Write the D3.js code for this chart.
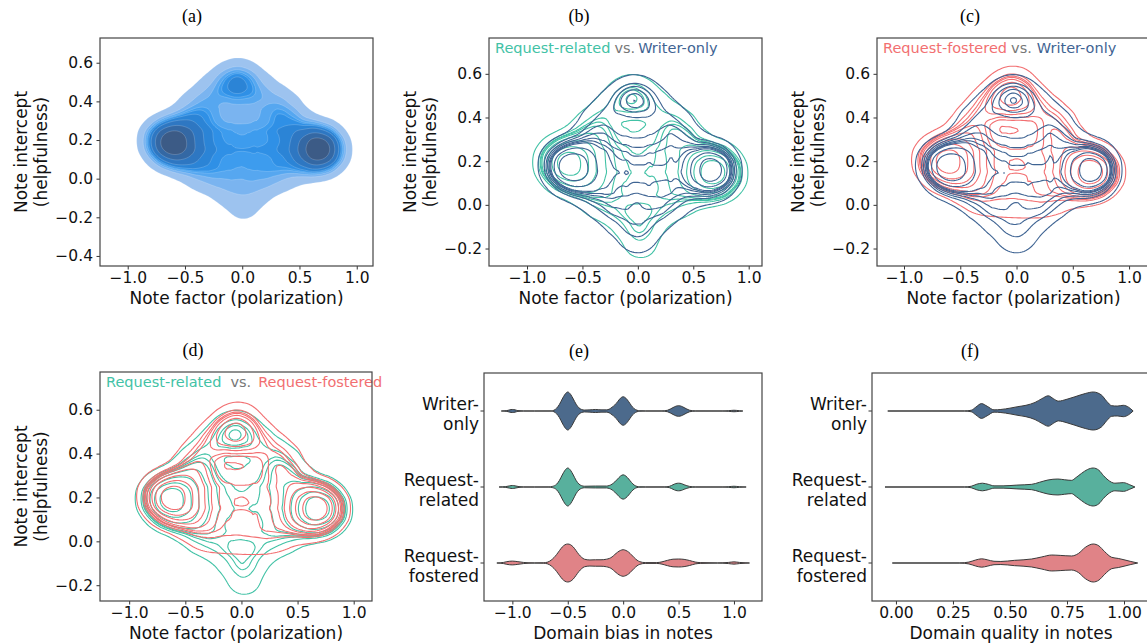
<!DOCTYPE html>
<html>
<head>
<meta charset="utf-8">
<script src="https://cdn.jsdelivr.net/npm/d3@7"></script>
<style>
  body { margin: 0; background: #fff; }
  text { font-family: "DejaVu Sans", sans-serif; }
</style>
</head>
<body>
<div id="chart"></div>
<script>
// groups of notes
const groups = ["Writer-only", "Request-related", "Request-fostered"];
const groupLabels = [["Writer-", "only"], ["Request-", "related"], ["Request-", "fostered"]];
const groupFill = ["#4c6a8c", "#58b09d", "#e08387"];
const groupLine = ["#3f6493", "#42c2a6", "#f26f71"];

// tick labels
const factorTicks = [-1.0, -0.5, 0.0, 0.5, 1.0];
const interceptTicksAll = [-0.4, -0.2, 0.0, 0.2, 0.4, 0.6];
const interceptTicks = [-0.2, 0.0, 0.2, 0.4, 0.6];
const biasTicks = [-1.0, -0.5, 0.0, 0.5, 1.0];
const qualityTicks = [0.0, 0.25, 0.5, 0.75, 1.0];

// note clusters: [factor, intercept, weight]
const writerNotes = [
  [-0.62, 0.17, 2.2], [-0.6, 0.23, 0.9], [-0.6, 0.11, 0.9], [-0.54, 0.17, 1.0], [-0.7, 0.18, 0.9],
  [-0.76, 0.19, 0.4], [-0.5, 0.08, 0.6], [-0.5, 0.26, 0.6],
  [0.7, 0.16, 2.3], [0.67, 0.22, 0.9], [0.67, 0.1, 0.9], [0.61, 0.16, 1.0], [0.75, 0.16, 0.6],
  [0.56, 0.08, 0.6], [0.56, 0.25, 0.6],
  [-0.1, 0.49, 0.8], [0.04, 0.49, 0.8], [-0.03, 0.52, 0.5], [-0.22, 0.46, 0.5], [0.16, 0.46, 0.5],
  [-0.42, 0.38, 0.5], [0.38, 0.37, 0.5], [-0.3, 0.42, 0.5], [0.27, 0.42, 0.5], [0.0, 0.41, 0.5],
  [-0.38, 0.3, 0.8], [-0.2, 0.3, 0.8], [0.0, 0.3, 0.8], [0.2, 0.3, 0.8], [0.38, 0.3, 0.8],
  [-0.38, 0.2, 1.0], [-0.2, 0.2, 1.0], [0.0, 0.19, 1.0], [0.2, 0.2, 1.0], [0.4, 0.2, 1.0],
  [-0.38, 0.1, 1.0], [-0.2, 0.1, 1.0], [0.0, 0.1, 1.0], [0.2, 0.1, 1.0], [0.4, 0.1, 1.0],
  [-0.33, 0.0, 0.85], [-0.12, 0.0, 0.85], [0.12, 0.0, 0.85], [0.32, 0.0, 0.85],
  [-0.16, -0.07, 0.6], [0.14, -0.06, 0.5], [-0.07, -0.13, 0.4], [0.08, -0.13, 0.4], [0.0, -0.17, 0.45]
];
const relatedNotes = [
  [-0.65, 0.19, 2.2], [-0.63, 0.25, 0.9], [-0.63, 0.12, 0.9], [-0.56, 0.18, 1.0], [-0.73, 0.19, 0.9],
  [-0.8, 0.2, 0.5], [-0.52, 0.1, 0.6], [-0.52, 0.27, 0.6],
  [0.7, 0.15, 2.2], [0.68, 0.21, 0.9], [0.68, 0.09, 0.9], [0.62, 0.15, 1.0], [0.77, 0.15, 0.9],
  [0.84, 0.14, 0.5], [0.57, 0.08, 0.6], [0.57, 0.24, 0.6],
  [-0.12, 0.5, 0.6], [0.02, 0.5, 0.6], [-0.05, 0.53, 0.3], [-0.22, 0.46, 0.4], [0.15, 0.46, 0.4],
  [-0.44, 0.37, 0.5], [0.4, 0.36, 0.5], [-0.3, 0.41, 0.5], [0.27, 0.41, 0.5], [0.0, 0.4, 0.4],
  [-0.4, 0.3, 0.8], [-0.2, 0.3, 0.6], [0.0, 0.3, 0.55], [0.2, 0.3, 0.6], [0.4, 0.3, 0.8],
  [-0.4, 0.2, 0.9], [-0.2, 0.2, 0.65], [0.0, 0.19, 0.55], [0.2, 0.2, 0.65], [0.42, 0.2, 0.9],
  [-0.4, 0.1, 0.9], [-0.2, 0.1, 0.65], [0.0, 0.1, 0.55], [0.2, 0.1, 0.65], [0.42, 0.1, 0.9],
  [-0.35, 0.0, 0.75], [-0.12, -0.01, 0.7], [0.12, -0.01, 0.7], [0.35, 0.0, 0.75],
  [-0.1, -0.08, 0.5], [0.1, -0.08, 0.5], [0.02, -0.16, 0.5], [0.03, -0.2, 0.35]
];
const fosteredNotes = [
  [-0.64, 0.2, 2.2], [-0.62, 0.26, 0.9], [-0.62, 0.13, 0.9], [-0.55, 0.19, 1.0], [-0.72, 0.2, 0.9],
  [-0.8, 0.21, 0.5], [-0.5, 0.11, 0.6], [-0.5, 0.28, 0.6],
  [0.68, 0.15, 2.2], [0.66, 0.21, 0.9], [0.66, 0.09, 0.9], [0.6, 0.15, 1.0], [0.76, 0.15, 0.9],
  [0.83, 0.15, 0.5], [0.55, 0.08, 0.6], [0.55, 0.24, 0.6],
  [-0.12, 0.5, 1.1], [0.02, 0.5, 1.1], [-0.05, 0.54, 0.6], [-0.24, 0.47, 0.6], [0.17, 0.47, 0.6], [0.0, 0.58, 0.3],
  [-0.44, 0.38, 0.7], [0.4, 0.37, 0.7], [-0.3, 0.43, 0.7], [0.27, 0.42, 0.7], [0.0, 0.42, 0.6],
  [-0.4, 0.3, 0.8], [-0.2, 0.3, 0.65], [0.0, 0.3, 0.65], [0.2, 0.3, 0.65], [0.4, 0.3, 0.8],
  [-0.4, 0.2, 0.9], [-0.2, 0.2, 0.65], [0.0, 0.2, 0.6], [0.2, 0.2, 0.65], [0.42, 0.2, 0.9],
  [-0.4, 0.1, 0.85], [-0.2, 0.1, 0.65], [0.0, 0.1, 0.6], [0.2, 0.1, 0.65], [0.42, 0.1, 0.85],
  [-0.33, 0.01, 0.6], [-0.1, 0.0, 0.6], [0.12, 0.0, 0.6], [0.32, 0.01, 0.6]
];

// violin outlines: [value, relative density]
const writerBias = [[-1.10,0],[-1.05,0.02],[-1.025,0.06],[-1.0,0.08],[-0.975,0.06],[-0.95,0.02],[-0.9,0.003],[-0.8,0],[-0.65,0.003],[-0.625,0.04],[-0.6,0.15],[-0.575,0.35],[-0.55,0.63],[-0.525,0.88],[-0.5,1.0],[-0.475,0.88],[-0.45,0.63],[-0.425,0.36],[-0.4,0.17],[-0.375,0.08],[-0.35,0.05],[-0.3,0.06],[-0.25,0.08],[-0.2,0.06],[-0.15,0.06],[-0.125,0.1],[-0.1,0.2],[-0.075,0.32],[-0.05,0.49],[-0.025,0.67],[0,0.75],[0.025,0.67],[0.05,0.49],[0.075,0.28],[0.1,0.12],[0.125,0.04],[0.15,0.01],[0.2,0.003],[0.35,0.003],[0.4,0.04],[0.45,0.18],[0.475,0.25],[0.5,0.28],[0.525,0.25],[0.55,0.18],[0.6,0.04],[0.65,0.005],[0.9,0],[0.95,0.015],[1.0,0.04],[1.05,0.015],[1.08,0]];
const relatedBias = [[-1.12,0],[-1.06,0.02],[-1.025,0.06],[-1.0,0.08],[-0.975,0.06],[-0.94,0.02],[-0.9,0.003],[-0.8,0],[-0.67,0.003],[-0.64,0.03],[-0.6,0.15],[-0.575,0.35],[-0.55,0.63],[-0.525,0.88],[-0.5,1.0],[-0.475,0.88],[-0.45,0.63],[-0.425,0.35],[-0.4,0.16],[-0.375,0.07],[-0.35,0.04],[-0.25,0.05],[-0.15,0.05],[-0.125,0.08],[-0.1,0.15],[-0.075,0.27],[-0.05,0.42],[-0.025,0.57],[0,0.64],[0.025,0.57],[0.05,0.42],[0.075,0.24],[0.1,0.1],[0.125,0.03],[0.15,0.008],[0.2,0.002],[0.37,0.003],[0.42,0.04],[0.45,0.12],[0.475,0.18],[0.5,0.2],[0.525,0.18],[0.55,0.12],[0.6,0.03],[0.65,0.004],[0.9,0],[0.95,0.015],[1.0,0.04],[1.05,0.015],[1.11,0]];
const fosteredBias = [[-1.14,0],[-1.08,0.03],[-1.05,0.07],[-1.0,0.1],[-0.95,0.07],[-0.9,0.03],[-0.85,0.008],[-0.8,0.003],[-0.72,0.01],[-0.68,0.05],[-0.65,0.15],[-0.6,0.45],[-0.575,0.65],[-0.55,0.84],[-0.525,0.96],[-0.5,1.0],[-0.475,0.96],[-0.45,0.84],[-0.425,0.65],[-0.4,0.45],[-0.375,0.3],[-0.35,0.2],[-0.3,0.16],[-0.25,0.17],[-0.2,0.17],[-0.15,0.2],[-0.1,0.32],[-0.075,0.45],[-0.05,0.57],[-0.025,0.66],[0,0.7],[0.025,0.66],[0.05,0.57],[0.075,0.43],[0.1,0.28],[0.125,0.15],[0.15,0.07],[0.2,0.02],[0.3,0.02],[0.35,0.06],[0.4,0.14],[0.45,0.2],[0.5,0.21],[0.55,0.19],[0.6,0.13],[0.65,0.05],[0.7,0.02],[0.85,0.005],[0.95,0.03],[1.0,0.06],[1.05,0.03],[1.1,0.01],[1.14,0]];

const writerQuality = [[-0.036,0],[0.3,0.003],[0.33,0.04],[0.35,0.2],[0.375,0.39],[0.4,0.25],[0.43,0.06],[0.46,0.08],[0.5,0.15],[0.535,0.23],[0.57,0.3],[0.61,0.45],[0.64,0.65],[0.668,0.8],[0.69,0.65],[0.712,0.52],[0.75,0.62],[0.785,0.75],[0.83,0.92],[0.865,1.0],[0.9,0.85],[0.925,0.5],[0.946,0.28],[0.97,0.26],[0.997,0.3],[1.02,0.2],[1.04,0]];
const relatedQuality = [[-0.048,0],[0.3,0.003],[0.33,0.04],[0.355,0.15],[0.379,0.2],[0.405,0.14],[0.43,0.06],[0.47,0.06],[0.53,0.1],[0.595,0.14],[0.63,0.25],[0.667,0.37],[0.71,0.42],[0.74,0.38],[0.77,0.35],[0.79,0.5],[0.814,0.72],[0.84,0.92],[0.865,1.0],[0.89,0.88],[0.91,0.6],[0.93,0.37],[0.96,0.2],[0.997,0.23],[1.025,0.12],[1.048,0]];
const fosteredQuality = [[-0.016,0],[0.28,0.003],[0.32,0.05],[0.35,0.16],[0.376,0.22],[0.4,0.17],[0.43,0.09],[0.46,0.08],[0.52,0.14],[0.595,0.21],[0.64,0.32],[0.683,0.42],[0.72,0.4],[0.77,0.37],[0.8,0.5],[0.83,0.82],[0.865,1.0],[0.89,0.9],[0.915,0.6],[0.946,0.3],[0.975,0.24],[1.0,0.17],[1.03,0.08],[1.06,0]];

const width = 1147, height = 644;
// iso-proportion levels (share of mass below each line), as in seaborn kdeplot
const massLevels = [0.05, 0.156, 0.261, 0.367, 0.472, 0.578, 0.683, 0.789, 0.894];
const fillColors = ["#9dc3ef", "#7ab4f0", "#56a7f0", "#3d9cee", "#2f90e6", "#2b84d6", "#2e77c2", "#3468a4", "#3c5b86"];

const svg = d3.select("#chart").append("svg")
  .attr("width", width).attr("height", height);

function panel(cfg) {
  const g = svg.append("g").attr("transform", `translate(${cfg.left},${cfg.top})`);
  const x = d3.scaleLinear().domain(cfg.xd).range([0, cfg.w]);
  const y = cfg.band ? d3.scaleBand().domain(groups).range([0, cfg.h])
                     : d3.scaleLinear().domain(cfg.yd).range([cfg.h, 0]);
  const clipId = "clip" + cfg.id;
  g.append("clipPath").attr("id", clipId).append("rect").attr("width", cfg.w).attr("height", cfg.h);
  const plot = g.append("g").attr("clip-path", `url(#${clipId})`);

  svg.append("text").attr("x", cfg.tx).attr("y", cfg.top - 16)
    .attr("text-anchor", "middle")
    .style("font-family", "'Liberation Serif', serif").style("font-size", "18px")
    .text(cfg.title);

  const xa = g.append("g").attr("transform", `translate(0,${cfg.h})`)
    .call(d3.axisBottom(x).tickValues(cfg.xticks).tickFormat(d3.format(cfg.xfmt)).tickSize(3.5).tickPadding(2.5));
  xa.select(".domain").remove();
  xa.selectAll("text").style("font-size", "15.5px").attr("fill", "#111");
  xa.selectAll("line").attr("stroke", "#333");

  g.append("text").attr("x", cfg.w / 2).attr("y", cfg.h + 32)
    .attr("text-anchor", "middle").attr("dominant-baseline", "central")
    .style("font-size", "17px").attr("fill", "#111").text(cfg.xlabel);

  if (cfg.band) {
    const ya = g.append("g").call(d3.axisLeft(y).tickSize(3.5).tickFormat(""));
    ya.select(".domain").remove();
    ya.selectAll("line").attr("stroke", "#333");
    groups.forEach((gr, i) => {
      const t = g.append("text").attr("text-anchor", "end").style("font-size", "17px").attr("fill", "#111")
        .attr("transform", `translate(-5,${y(gr) + y.bandwidth() / 2})`);
      t.append("tspan").attr("x", 0).attr("y", -7).attr("dominant-baseline", "central").text(groupLabels[i][0]);
      t.append("tspan").attr("x", 0).attr("y", 12.5).attr("dominant-baseline", "central").text(groupLabels[i][1]);
    });
  } else {
    const ya = g.append("g")
      .call(d3.axisLeft(y).tickValues(cfg.yticks).tickFormat(d3.format(".1f")).tickSize(3.5).tickPadding(3.5));
    ya.select(".domain").remove();
    ya.selectAll("text").style("font-size", "15.5px").attr("fill", "#111");
    ya.selectAll("line").attr("stroke", "#333");
    const yl = g.append("text").attr("text-anchor", "middle")
      .attr("transform", `translate(-79,${cfg.h / 2}) rotate(-90)`)
      .style("font-size", "17px").attr("fill", "#111");
    yl.append("tspan").attr("x", 0).attr("y", 0).attr("dominant-baseline", "central").text("Note intercept");
    yl.append("tspan").attr("x", 0).attr("y", 20).attr("dominant-baseline", "central").text("(helpfulness)");
  }
  return { g, plot, x, y, cfg };
}

function frame(p) {
  p.g.append("rect").attr("width", p.cfg.w).attr("height", p.cfg.h)
    .attr("fill", "none").attr("stroke", "#444").attr("stroke-width", 1.2);
}

// density contours at iso-proportion levels, using contour areas to get the mass
function densityLevels(points, p) {
  const dens = d3.contourDensity()
    .x(d => p.x(d[0])).y(d => p.y(d[1])).weight(d => d[2])
    .size([p.cfg.w, p.cfg.h]).cellSize(2).bandwidth(12.5);
  const path = d3.geoPath();
  const raw = dens.thresholds(160)(points);
  const t = raw.map(c => c.value), A = raw.map(c => path.area(c));
  const n = t.length;
  const I = new Array(n).fill(0);
  for (let k = n - 2; k >= 0; k--) I[k] = I[k + 1] + (A[k] + A[k + 1]) / 2 * (t[k + 1] - t[k]);
  const above = t.map((v, k) => v * A[k] + I[k]);
  const total = above[0];
  const levels = massLevels.map(q => {
    const target = (1 - q) * total;
    for (let k = 0; k < n - 1; k++) {
      if (above[k] >= target && above[k + 1] <= target) {
        const f = (above[k] - target) / (above[k] - above[k + 1] || 1);
        return t[k] + f * (t[k + 1] - t[k]);
      }
    }
    return t[n - 1];
  });
  return dens.thresholds(levels)(points);
}

function contourLines(p, points, color) {
  p.plot.append("g").selectAll("path")
    .data(densityLevels(points, p)).join("path")
    .attr("d", d3.geoPath())
    .attr("fill", "none").attr("stroke", color).attr("stroke-width", 1.1);
}

function legend(p, parts) {
  const t = p.g.append("text").attr("x", 6).attr("y", 10).attr("dominant-baseline", "central")
    .style("font-size", "14.5px");
  parts.forEach(pt => t.append("tspan").attr("dx", pt[2]).attr("fill", pt[1]).text(pt[0]));
}

// (a) all notes, filled
const pa = panel({ id: "a", left: 100, top: 38, w: 273, h: 228, xd: [-1.242, 1.142], yd: [-0.452, 0.728],
  xticks: factorTicks, yticks: interceptTicksAll, xfmt: ".1f", title: "(a)", tx: 192, xlabel: "Note factor (polarization)" });
const allNotes = writerNotes.concat(relatedNotes, fosteredNotes);
pa.plot.append("g").selectAll("path")
  .data(densityLevels(allNotes, pa)).join("path")
  .attr("d", d3.geoPath())
  .attr("fill", (d, i) => fillColors[i])
  .attr("stroke", "rgba(255,255,255,0.3)").attr("stroke-width", 0.6);
frame(pa);

// (b)
const pb = panel({ id: "b", left: 489, top: 38, w: 273, h: 228, xd: [-1.343, 1.12], yd: [-0.28, 0.764],
  xticks: factorTicks, yticks: interceptTicks, xfmt: ".1f", title: "(b)", tx: 579, xlabel: "Note factor (polarization)" });
contourLines(pb, relatedNotes, groupLine[1]);
contourLines(pb, writerNotes, groupLine[0]);
legend(pb, [["Request-related", groupLine[1], 0], ["vs.", "#777", 4], ["Writer-only", groupLine[0], 3]]);
frame(pb);

// (c)
const pc = panel({ id: "c", left: 877, top: 38, w: 273, h: 228, xd: [-1.24, 1.186], yd: [-0.28, 0.764],
  xticks: factorTicks, yticks: interceptTicks, xfmt: ".1f", title: "(c)", tx: 970, xlabel: "Note factor (polarization)" });
contourLines(pc, fosteredNotes, groupLine[2]);
contourLines(pc, writerNotes, groupLine[0]);
legend(pc, [["Request-fostered", groupLine[2], 0], ["vs.", "#777", 4], ["Writer-only", groupLine[0], 5]]);
frame(pc);

// (d)
const pd = panel({ id: "d", left: 100, top: 372, w: 272, h: 229, xd: [-1.26, 1.163], yd: [-0.272, 0.772],
  xticks: factorTicks, yticks: interceptTicks, xfmt: ".1f", title: "(d)", tx: 193, xlabel: "Note factor (polarization)" });
contourLines(pd, relatedNotes, groupLine[1]);
contourLines(pd, fosteredNotes, groupLine[2]);
legend(pd, [["Request-related", groupLine[1], 0], ["vs.", "#777", 9], ["Request-fostered", groupLine[2], 7]]);
frame(pd);

function violins(p, profiles) {
  const hw = p.y.bandwidth() * 0.25;
  profiles.forEach((prof, i) => {
    const cy = p.y(groups[i]) + p.y.bandwidth() / 2;
    const m = d3.max(prof, d => d[1]);
    const area = d3.area()
      .x(d => p.x(d[0]))
      .y0(d => cy - d[1] / m * hw)
      .y1(d => cy + d[1] / m * hw)
      .curve(d3.curveMonotoneX);
    p.plot.append("path").attr("d", area(prof))
      .attr("fill", groupFill[i]).attr("stroke", "#3a3a3a").attr("stroke-width", 1);
  });
}

// (e)
const pe = panel({ id: "e", left: 484, top: 373, w: 278, h: 228, xd: [-1.256, 1.253], band: true,
  xticks: biasTicks, xfmt: ".1f", title: "(e)", tx: 579, xlabel: "Domain bias in notes" });
violins(pe, [writerBias, relatedBias, fosteredBias]);
frame(pe);

// (f)
const pf = panel({ id: "f", left: 872, top: 373, w: 278, h: 228, xd: [-0.105, 1.114], band: true,
  xticks: qualityTicks, xfmt: ".2f", title: "(f)", tx: 970, xlabel: "Domain quality in notes" });
violins(pf, [writerQuality, relatedQuality, fosteredQuality]);
frame(pf);
</script>
</body>
</html>
